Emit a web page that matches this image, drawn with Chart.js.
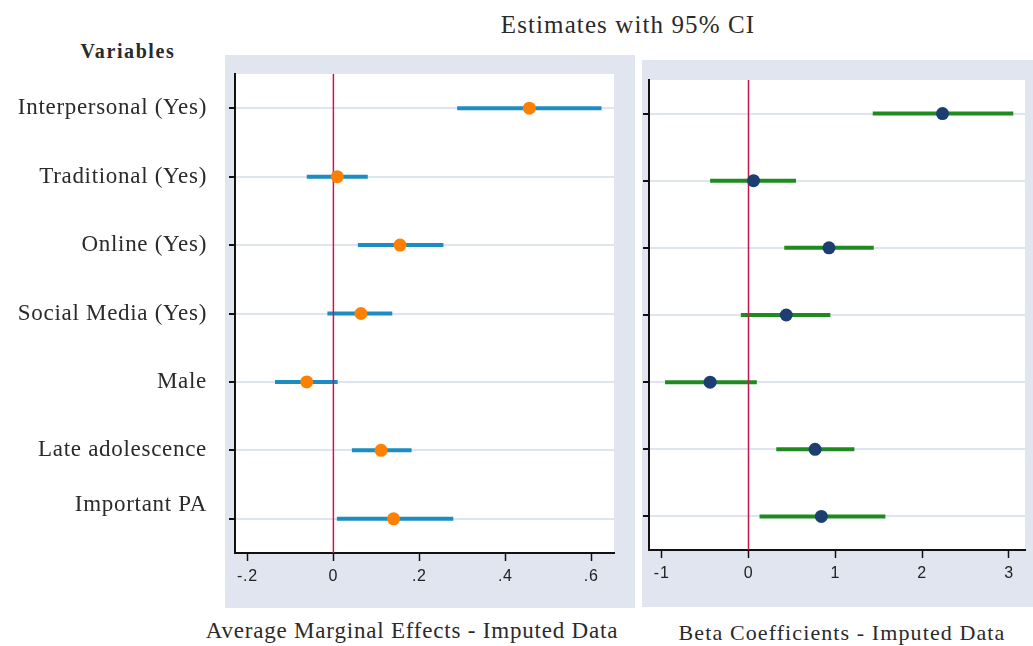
<!DOCTYPE html>
<html>
<head>
<meta charset="utf-8">
<script src="https://cdn.jsdelivr.net/npm/chart.js@4/dist/chart.umd.min.js"></script>
<style>
  body { margin: 0; background: #fff; width: 1033px; height: 646px; position: relative; overflow: hidden; }
  .panel { position: absolute; background: #e0e5ef; }
  .txt { position: absolute; font-family: "Liberation Serif", "Times New Roman", serif; color: #2a2a2a; white-space: nowrap; }
  canvas { position: absolute; top: 0; }
</style>
</head>
<body>
<div class="panel" style="left:225px; top:55px; width:410px; height:553px;"></div>
<div class="panel" style="left:642px; top:60px; width:391px; height:547px;"></div>

<div class="txt" style="left:0; width:1256px; top:11px; text-align:center; font-size:25px; letter-spacing:1.1px;">Estimates with 95% CI</div>
<div class="txt" style="left:28px; width:200px; top:40px; text-align:center; font-size:20px; font-weight:bold; letter-spacing:1.6px;">Variables</div>
<div class="txt" style="left:112px; width:600px; top:618px; text-align:center; font-size:23px; letter-spacing:0.8px;">Average Marginal Effects - Imputed Data</div>
<div class="txt" style="left:542px; width:600px; top:620px; text-align:center; font-size:22px; letter-spacing:1.1px;">Beta Coefficients - Imputed Data</div>

<div style="position:absolute; left:0; top:0; width:640px; height:646px;"><canvas id="ame"></canvas></div>
<div style="position:absolute; left:640px; top:0; width:393px; height:646px;"><canvas id="beta"></canvas></div>

<script>
const categories = ['Interpersonal (Yes)', 'Traditional (Yes)', 'Online (Yes)', 'Social Media (Yes)', 'Male', 'Late adolescence', 'Important PA'];

// average marginal effects, 95% CI
const ameEst  = [0.456, 0.009, 0.155, 0.064, -0.062, 0.111, 0.140];
const ameLow  = [0.288, -0.062, 0.057, -0.014, -0.136, 0.043, 0.008];
const ameHigh = [0.624, 0.080, 0.256, 0.137, 0.010, 0.182, 0.279];
const ameTicks = [-0.2, 0, 0.2, 0.4, 0.6];
const ameTickLabels = ['-.2', '0', '.2', '.4', '.6'];

// beta coefficients, 95% CI
const betaEst  = [2.235, 0.058, 0.927, 0.435, -0.442, 0.767, 0.839];
const betaLow  = [1.431, -0.442, 0.412, -0.088, -0.961, 0.320, 0.127];
const betaHigh = [3.050, 0.547, 1.443, 0.943, 0.096, 1.220, 1.577];
const betaTicks = [-1, 0, 1, 2, 3];
const betaTickLabels = ['-1', '0', '1', '2', '3'];

const rowPos = categories.map((c, i) => i + 1);

const plotBg = {
    id: 'plotBg',
    beforeDraw(chart) {
        const { ctx, chartArea: a } = chart;
        ctx.save();
        ctx.fillStyle = '#ffffff';
        ctx.fillRect(a.left, a.top, a.right - a.left, a.bottom - a.top);
        ctx.restore();
        ctx.letterSpacing = '0.7px';
    }
};

function buildChart(id, opts) {
    const ciSets = rowPos.map((y, i) => ({
        data: [{ x: opts.low[i], y: y }, { x: opts.high[i], y: y }],
        showLine: true,
        borderColor: opts.ciColor,
        borderWidth: 4,
        borderCapStyle: 'butt',
        pointRadius: 0,
        order: 2
    }));

    const zeroLine = {
        data: [{ x: 0, y: 0.5 }, { x: 0, y: 7.5 }],
        showLine: true,
        borderColor: '#c8174a',
        borderWidth: 1.5,
        pointRadius: 0,
        order: 1
    };

    const points = {
        data: rowPos.map((y, i) => ({ x: opts.est[i], y: y })),
        pointRadius: 6.5,
        pointBackgroundColor: opts.dotColor,
        pointBorderWidth: 0,
        showLine: false,
        order: 0
    };

    return new Chart(document.getElementById(id), {
        type: 'scatter',
        data: { datasets: [...ciSets, zeroLine, points] },
        options: {
            responsive: true,
            maintainAspectRatio: false,
            animation: false,
            layout: { padding: opts.padding },
            plugins: { legend: { display: false }, tooltip: { enabled: false } },
            scales: {
                x: {
                    type: 'linear',
                    min: opts.xMin,
                    max: opts.xMax,
                    afterBuildTicks: s => { s.ticks = opts.ticks.map(v => ({ value: v })); },
                    afterFit: s => { s.height = opts.xAxisHeight; },
                    grid: { drawOnChartArea: false, tickLength: 8, tickColor: '#111', tickWidth: 1.5 },
                    border: { color: '#111', width: 2 },
                    ticks: {
                        padding: 6,
                        color: '#222',
                        font: { family: 'Liberation Sans, Arial, sans-serif', size: 16 },
                        callback: (v, i) => opts.tickLabels[i]
                    }
                },
                y: {
                    type: 'linear',
                    reverse: true,
                    min: 0.5,
                    max: 7.5,
                    afterBuildTicks: s => { s.ticks = rowPos.map(v => ({ value: v })); },
                    afterFit: s => { s.width = opts.yAxisWidth; },
                    grid: { color: '#dfe5f0', lineWidth: 2, tickLength: 6, tickColor: '#111', tickWidth: 2 },
                    border: { color: '#111', width: 2 },
                    ticks: {
                        display: opts.showLabels,
                        padding: 22,
                        color: '#2a2a2a',
                        font: { family: 'Liberation Serif, Times New Roman, serif', size: 23 },
                        callback: (v, i) => i === categories.length - 1 ? [categories[i], ''] : categories[i]
                    }
                }
            }
        },
        plugins: [plotBg]
    });
}

buildChart('ame', {
    est: ameEst, low: ameLow, high: ameHigh,
    ticks: ameTicks, tickLabels: ameTickLabels,
    xMin: -0.229, xMax: 0.653,
    ciColor: '#1b8dc1', dotColor: '#ff8000',
    padding: { top: 74, right: 26, bottom: 0, left: 0 },
    xAxisHeight: 93, yAxisWidth: 235, showLabels: true
});

buildChart('beta', {
    est: betaEst, low: betaLow, high: betaHigh,
    ticks: betaTicks, tickLabels: betaTickLabels,
    xMin: -1.146, xMax: 3.185,
    ciColor: '#1f8a1f', dotColor: '#1c3f72',
    padding: { top: 80, right: 8, bottom: 0, left: 0 },
    xAxisHeight: 96, yAxisWidth: 9, showLabels: false
});
</script>
</body>
</html>
